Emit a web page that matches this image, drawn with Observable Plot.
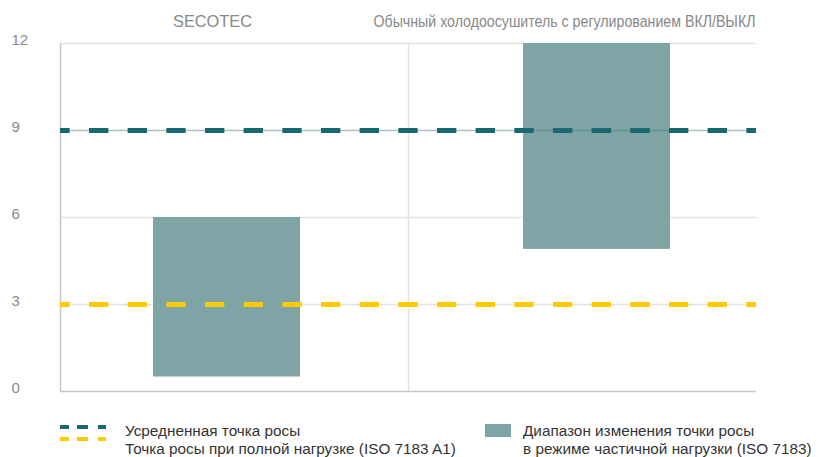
<!DOCTYPE html>
<html>
<head>
<meta charset="utf-8">
<script src="https://cdn.jsdelivr.net/npm/d3@7"></script>
<script src="https://cdn.jsdelivr.net/npm/@observablehq/plot@0.6"></script>
<style>
  body { margin: 0; background: #fff; font-family: "Liberation Sans", Arial, Helvetica, sans-serif; }
  #wrap { position: relative; width: 825px; height: 457px; }
  #chart svg { display: block; }
  .lg { position: absolute; font-size: 15.3px; line-height: 18.5px; color: #333; white-space: nowrap; }
</style>
</head>
<body>
<div id="wrap">
  <div id="chart"></div>
  <svg style="position:absolute;left:60px;top:425px" width="46" height="4"><line x1="0" x2="46" y1="2" y2="2" stroke="#17686f" stroke-width="4" stroke-dasharray="9,8,11,10,8"/></svg>
  <svg style="position:absolute;left:60px;top:437px" width="46" height="4"><line x1="0" x2="46" y1="2" y2="2" stroke="#fecb00" stroke-width="4" stroke-dasharray="9,8,11,10,8"/></svg>
  <div class="lg" style="left:125px;top:421.5px">Усредненная точка росы<br>Точка росы при полной нагрузке (ISO 7183 A1)</div>
  <div style="position:absolute;left:485px;top:424px;width:26px;height:13px;background:#7ea4a5"></div>
  <div class="lg" style="left:523px;top:421.5px">Диапазон изменения точки росы<br>в режиме частичной нагрузки (ISO 7183)</div>
</div>
<script>
const categories = ["SECOTEC", "Обычный холодоосушитель с регулированием ВКЛ/ВЫКЛ"];
const rangeLow = [0.5, 4.9];
const rangeHigh = [6, 12];
const averageDewPoint = 9;
const fullLoadDewPoint = 3;
const yTicks = [0, 3, 6, 9, 12];

const bars = categories.map((c, i) => ({cat: c, low: rangeLow[i], high: rangeHigh[i]}));

const teal = "#17686f", yellow = "#fecb00", barColor = "#7ea4a5";
const band = (756 - 60) / categories.length;

const chart = Plot.plot({
  width: 825,
  height: 400,
  marginLeft: 60,
  marginRight: 69,
  marginTop: 43,
  marginBottom: 9,
  style: {fontFamily: "'Liberation Sans', Arial, Helvetica, sans-serif", background: "#fff"},
  x: {type: "band", domain: categories, padding: 0, axis: null},
  y: {domain: [0, 12], axis: null},
  marks: [
    Plot.gridY([3, 6, 9, 12], {stroke: "#e2e2e2", strokeOpacity: 1, strokeWidth: 1.5}),
    Plot.ruleX(categories.slice(1), {x: d => d, y1: 0, y2: 12, dx: -band / 2, stroke: "#e4e4e4", strokeWidth: 1.5}),
    Plot.ruleX(categories.slice(0, 1), {x: d => d, y1: 0, y2: 12, dx: -band / 2, stroke: "#c8c8c8", strokeWidth: 1.5}),
    Plot.ruleY([0], {stroke: "#c6c6c6", strokeWidth: 1.5}),
    Plot.rectY(bars.slice(0, 1), {x: "cat", y1: "low", y2: "high", fill: barColor, insetLeft: 93, insetRight: 108}),
    Plot.rectY(bars.slice(1), {x: "cat", y1: "low", y2: "high", fill: barColor, insetLeft: 115, insetRight: 86}),
    Plot.ruleY([fullLoadDewPoint], {stroke: yellow, strokeWidth: 5, strokeDasharray: "19.333,19.333", strokeDashoffset: 9.667}),
    Plot.ruleY([averageDewPoint], {stroke: teal, strokeWidth: 1.5, strokeOpacity: 0.25}),
    Plot.ruleY([averageDewPoint], {stroke: teal, strokeWidth: 5, strokeDasharray: "19.333,19.333", strokeDashoffset: 9.667}),
    Plot.axisY(yTicks, {tickSize: 0, tickPadding: 0, textAnchor: "start", dx: -49, dy: -3.5, fontSize: 15, fill: "#888", tickFormat: d => String(d)}),
    Plot.text(categories.slice(0, 1), {x: d => d, text: d => d, frameAnchor: "top", lineAnchor: "middle", dy: -22, dx: -22, fontSize: 16, fill: "#888", className: "cat-label-0"}),
    Plot.text(categories.slice(1), {x: d => d, text: d => d, frameAnchor: "top", lineAnchor: "middle", dy: -22, dx: -18, fontSize: 16, fill: "#888", className: "cat-label-1"})
  ]
});
// fit label widths to the reference's narrower typeface
d3.select(chart).selectAll(".cat-label-0 text").attr("textLength", 79).attr("lengthAdjust", "spacingAndGlyphs");
d3.select(chart).selectAll(".cat-label-1 text").attr("textLength", 382).attr("lengthAdjust", "spacingAndGlyphs");
document.getElementById("chart").appendChild(chart);
</script>
</body>
</html>
